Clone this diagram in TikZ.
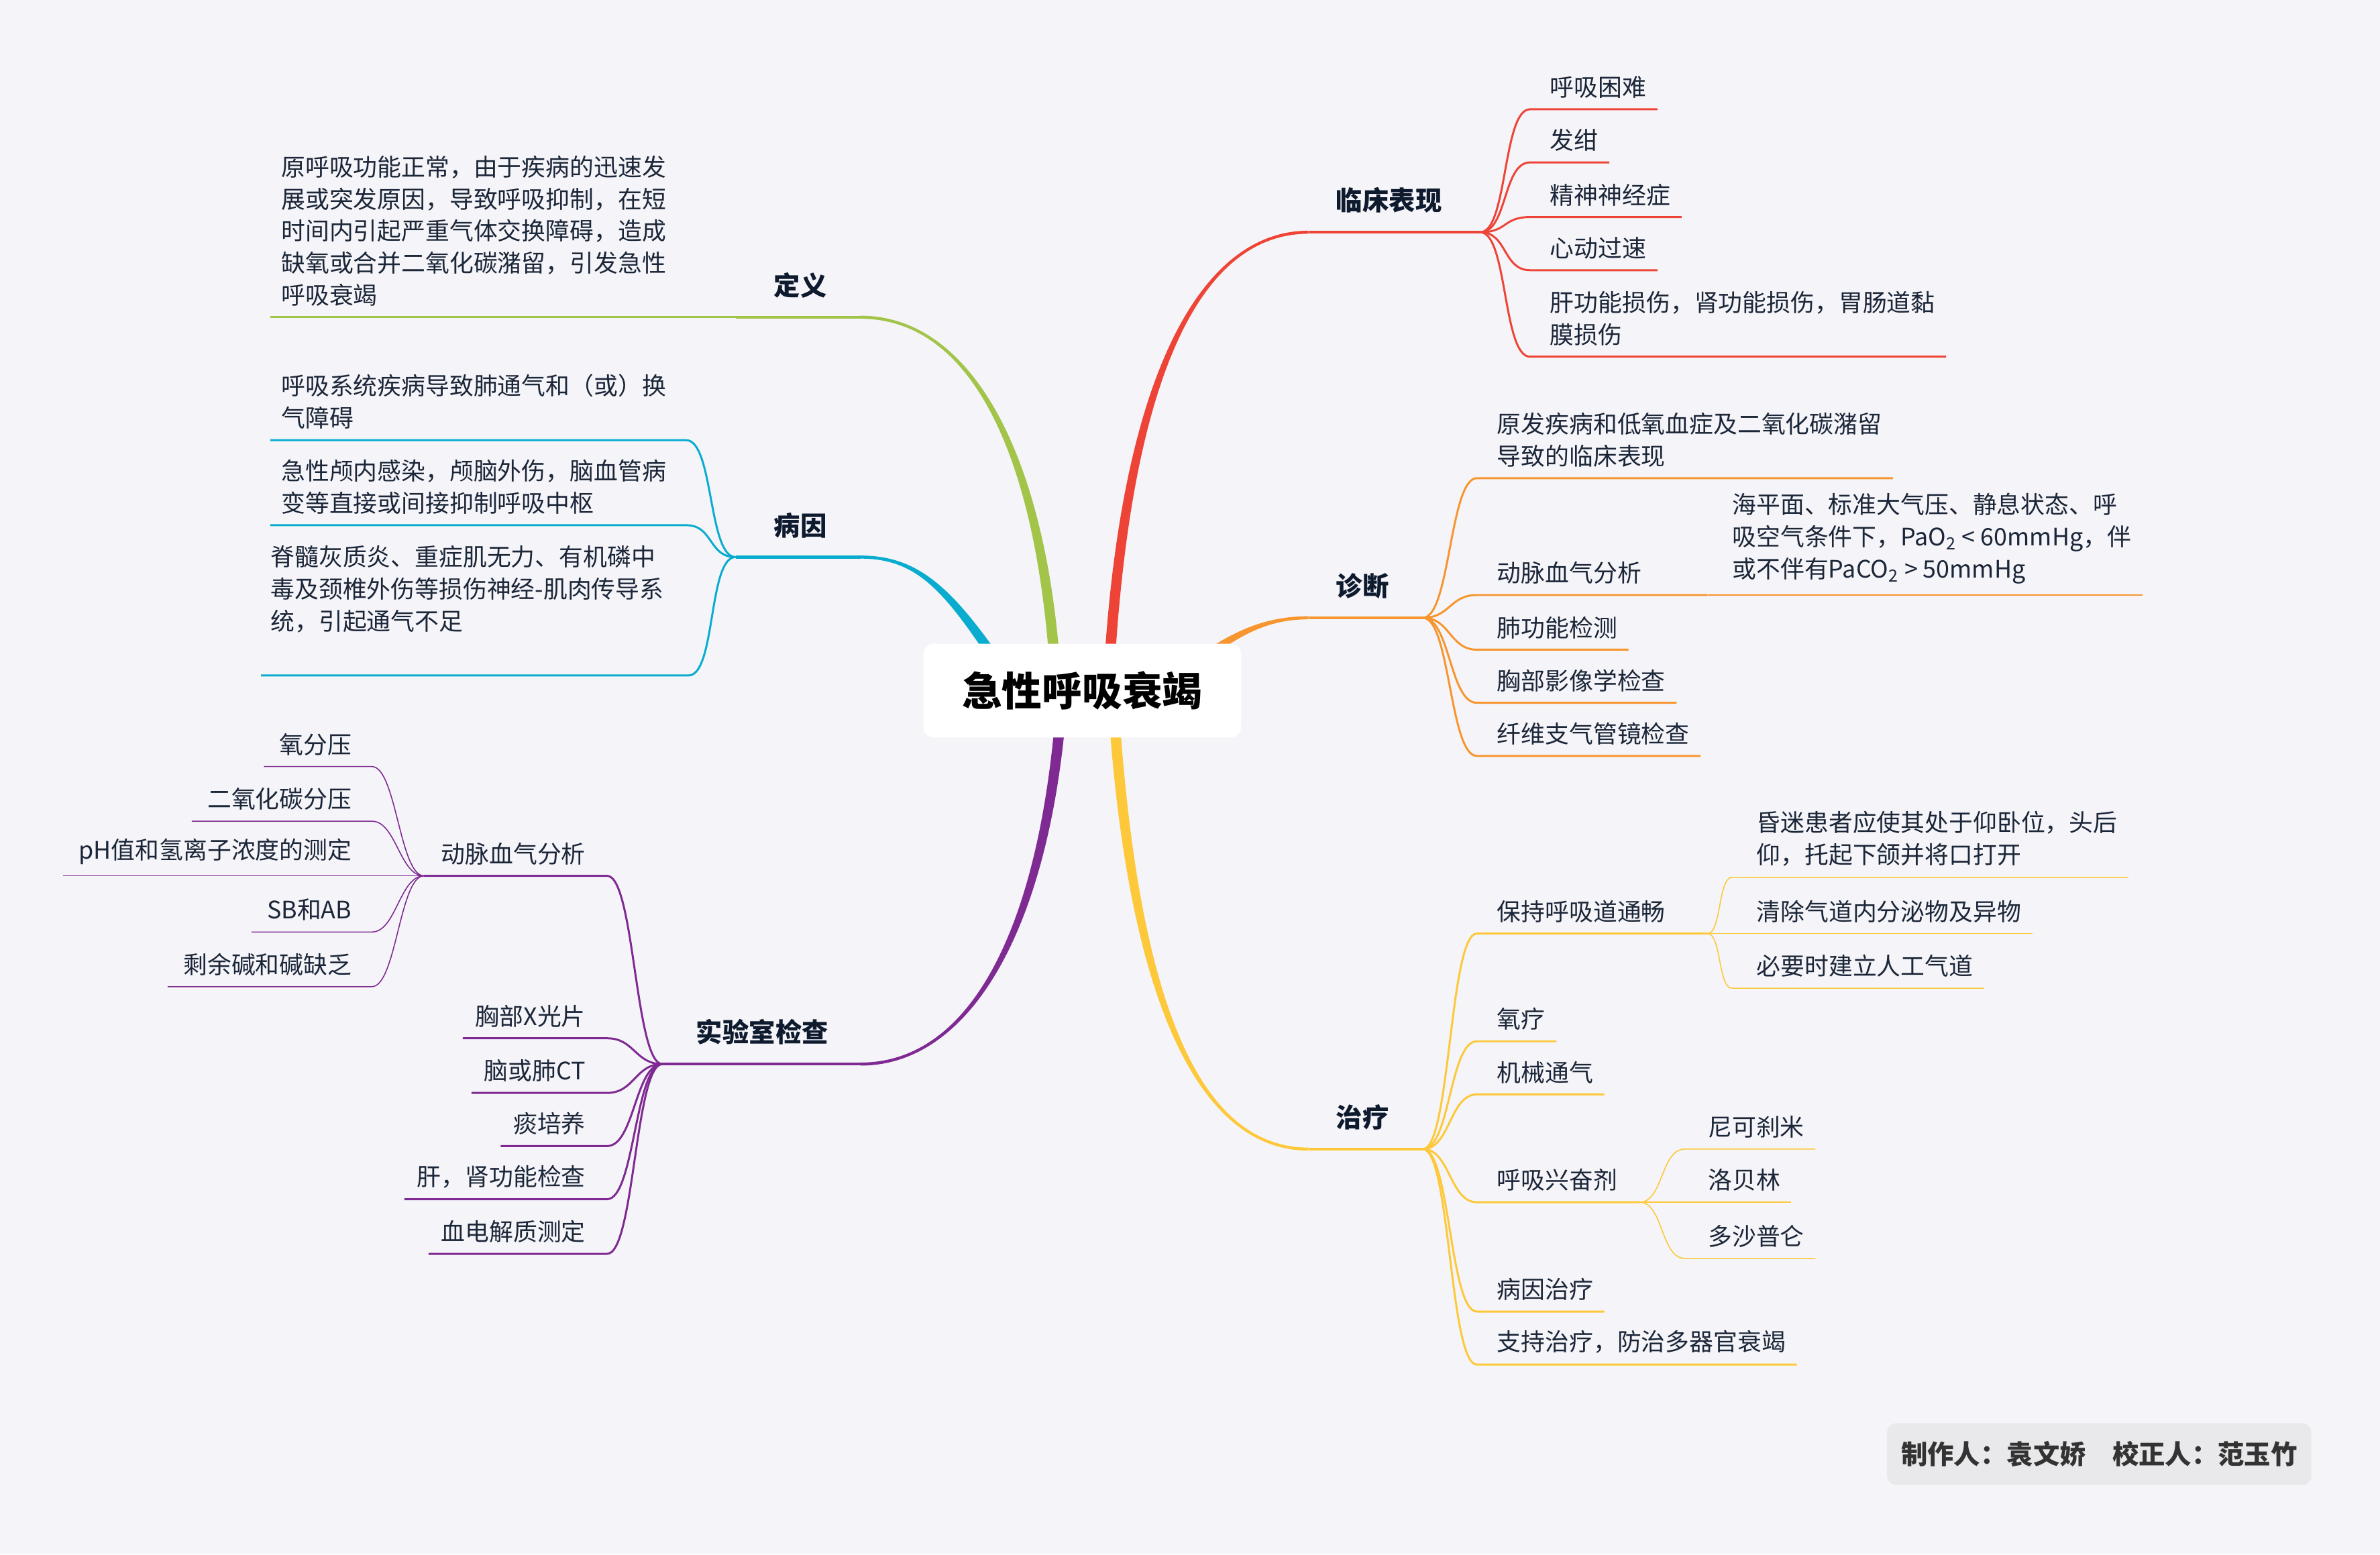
\documentclass[tikz,border=0pt]{standalone}
\usepackage{fontspec}
\setmainfont{Noto Sans CJK SC}
\usetikzlibrary{calc,backgrounds}

\definecolor{paper}{HTML}{F5F5F9}
\definecolor{ink}{HTML}{1B2638}
\definecolor{topicink}{HTML}{0E1A2E}
\definecolor{cred}{HTML}{EE4437}
\definecolor{corange}{HTML}{F7952F}
\definecolor{cyellow}{HTML}{FDC83A}
\definecolor{cgreen}{HTML}{A2C449}
\definecolor{cblue}{HTML}{09ACCF}
\definecolor{cpurple}{HTML}{7F2A92}
\definecolor{creditfill}{HTML}{E9E9EB}
\definecolor{creditink}{HTML}{333333}

\tikzset{
  rootnode/.style={fill=white, rounded corners=4.5pt, minimum width=134.7pt, minimum height=39.8pt,
    inner sep=0pt, font=\bfseries\fontsize{17}{20}\selectfont, text=black},
  topic/.style={inner sep=0pt, font=\bfseries\fontsize{11.2}{14}\selectfont, text=topicink},
  leaf/.style={inner sep=0pt, align=left, font=\fontsize{10.2}{13.6}\selectfont, text=ink},
  credit/.style={fill=creditfill, rounded corners=4pt, minimum width=180pt, minimum height=26.3pt,
    inner sep=0pt, font=\bfseries\fontsize{11.2}{14}\selectfont, text=creditink},
  limb/.style={line width=1.3pt},
  twig/.style={line width=0.85pt},
  sprig/.style={line width=0.45pt},
}

% tapered main branch: colour, start, control 1, control 2, end, start offset, end offset
\newcommand\bough[7]{%
  \fill[#1] ($#2+#6$) .. controls ($#3+#6$) and ($#4+#7$) .. ($#5+#7$)
    -- ($#5-#7$) .. controls ($#4-#7$) and ($#3-#6$) .. ($#2-#6$) -- cycle;}

\begin{document}
\begin{tikzpicture}[x=0.022628cm,y=-0.022628cm]
	\useasboundingbox (0,0) rectangle (1568,1024);
	
	% Centre
	\node[rootnode] (root) at (713,455) {急性呼吸衰竭};
	
	% Main topics
	\node[topic,anchor=west] (lc) at (880,132) {临床表现};
	\node[topic,anchor=west] (zd) at (880,386) {诊断};
	\node[topic,anchor=west] (zl) at (880,736) {治疗};
	\node[topic,anchor=east] (dy) at (545,188) {定义};
	\node[topic,anchor=east] (by) at (545,346) {病因};
	\node[topic,anchor=east] (sy) at (546,680) {实验室检查};
	
	\coordinate (lc-in) at ($(lc.west)+(-18,21)$);
	\coordinate (lc-fan) at ($(lc.east)+(25,21)$);
	\coordinate (zd-in) at ($(zd.west)+(-18,21)$);
	\coordinate (zd-fan) at ($(zd.east)+(22,21)$);
	\coordinate (zl-in) at ($(zl.west)+(-18,21)$);
	\coordinate (zl-fan) at ($(zl.east)+(22,21)$);
	\coordinate (dy-in) at ($(dy.east)+(22,21)$);
	\coordinate (dy-fan) at ($(dy.west)+(-25,21)$);
	\coordinate (by-in) at ($(by.east)+(22,21)$);
	\coordinate (by-fan) at ($(by.west)+(-25,21)$);
	\coordinate (sy-in) at ($(sy.east)+(21,21)$);
	\coordinate (sy-fan) at ($(sy.west)+(-22,21)$);
	
	% Clinical signs
	\node[leaf,anchor=south west] (r1) at (1021,65) {呼吸困难};
	\node[leaf,anchor=south west] (r2) at (1021,100) {发绀};
	\node[leaf,anchor=south west] (r3) at (1021,136) {精神神经症};
	\node[leaf,anchor=south west] (r4) at (1021,171) {心动过速};
	\node[leaf,anchor=south west] (r5) at (1021,228) {肝功能损伤，肾功能损伤，胃肠道黏\\膜损伤};
	
	% Diagnosis
	\node[leaf,anchor=south west] (o1) at (986,308) {原发疾病和低氧血症及二氧化碳潴留\\导致的临床表现};
	\node[leaf,anchor=south west] (o2) at (986,385) {动脉血气分析};
	\node[leaf,anchor=south west] (o2a) at (1141,385) {海平面、标准大气压、静息状态、呼\\吸空气条件下，PaO\textsubscript{2} < 60mmHg，伴\\或不伴有PaCO\textsubscript{2} > 50mmHg};
	\node[leaf,anchor=south west] (o3) at (986,421) {肺功能检测};
	\node[leaf,anchor=south west] (o4) at (986,456) {胸部影像学检查};
	\node[leaf,anchor=south west] (o5) at (986,491) {纤维支气管镜检查};
	\coordinate (o2-fan) at ($(o2.south west)+(139,7)$);
	
	% Treatment
	\node[leaf,anchor=south west] (y1) at (986,608) {保持呼吸道通畅};
	\node[leaf,anchor=south west] (y1a) at (1157,571) {昏迷患者应使其处于仰卧位，头后\\仰，托起下颌并将口打开};
	\node[leaf,anchor=south west] (y1b) at (1157,608) {清除气道内分泌物及异物};
	\node[leaf,anchor=south west] (y1c) at (1157,644) {必要时建立人工气道};
	\node[leaf,anchor=south west] (y2) at (986,679) {氧疗};
	\node[leaf,anchor=south west] (y3) at (986,714) {机械通气};
	\node[leaf,anchor=south west] (y4) at (986,785) {呼吸兴奋剂};
	\node[leaf,anchor=south west] (y4a) at (1125,750) {尼可刹米};
	\node[leaf,anchor=south west] (y4b) at (1125,785) {洛贝林};
	\node[leaf,anchor=south west] (y4c) at (1125,822) {多沙普仑};
	\node[leaf,anchor=south west] (y5) at (986,857) {病因治疗};
	\node[leaf,anchor=south west] (y6) at (986,892) {支持治疗，防治多器官衰竭};
	\coordinate (y1-fan) at ($(y1.south west)+(139,7)$);
	\coordinate (y4-fan) at ($(y4.south west)+(94,7)$);
	
	% Definition and causes
	\node[leaf,anchor=south west] (g1) at (185,202) {原呼吸功能正常，由于疾病的迅速发\\展或突发原因，导致呼吸抑制，在短\\时间内引起严重气体交换障碍，造成\\缺氧或合并二氧化碳潴留，引发急性\\呼吸衰竭};
	\node[leaf,anchor=south west] (b1) at (185,283) {呼吸系统疾病导致肺通气和（或）换\\气障碍};
	\node[leaf,anchor=south west] (b2) at (185,339) {急性颅内感染，颅脑外伤，脑血管病\\变等直接或间接抑制呼吸中枢};
	\node[leaf,anchor=south west] (b3) at (178,417) {脊髓灰质炎、重症肌无力、有机磷中\\毒及颈椎外伤等损伤神经-肌肉传导系\\统，引起通气不足};
	
	% Laboratory tests
	\node[leaf,anchor=south east] (p1) at (386,570) {动脉血气分析};
	\node[leaf,anchor=south east] (p1a) at (232,498) {氧分压};
	\node[leaf,anchor=south east] (p1b) at (232,534) {二氧化碳分压};
	\node[leaf,anchor=south east] (p1c) at (232,570) {pH值和氢离子浓度的测定};
	\node[leaf,anchor=south east] (p1d) at (232,607) {SB和AB};
	\node[leaf,anchor=south east] (p1e) at (232,643) {剩余碱和碱缺乏};
	\node[leaf,anchor=south east] (p2) at (386,677) {胸部X光片};
	\node[leaf,anchor=south east] (p3) at (386,713) {脑或肺CT};
	\node[leaf,anchor=south east] (p4) at (386,748) {痰培养};
	\node[leaf,anchor=south east] (p5) at (386,783) {肝，肾功能检查};
	\node[leaf,anchor=south east] (p6) at (386,819) {血电解质测定};
	\coordinate (p1-fan) at ($(p1.south west)+(-11,7)$);
	
	% Credits
	\node[credit] (credit) at (1383,958) {制作人：袁文娇\quad 校正人：范玉竹};
	
	% Background and main branches
	\begin{scope}[on background layer]
		\fill[paper] (0,0) rectangle (1568,1024);
		\bough{cred}{(root)+(17,0)}{(740,250)}{(790,153)}{(lc-in)}{(3.5,0)}{(0,1)}
		\bough{corange}{(root)+(40,10)}{(800,425)}{(825,407)}{(zd-in)}{(2.1,2.8)}{(0,1)}
		\bough{cyellow}{(root)+(20,0)}{(745,660)}{(790,757)}{(zl-in)}{(-3.5,0)}{(0,1)}
		\bough{cgreen}{(root)+(-17,0)}{(688,300)}{(640,209)}{(dy-in)}{(3.5,0)}{(0,-1)}
		\bough{cblue}{(root)+(-40,5)}{(630,395)}{(610,367)}{(by-in)}{(3,-1.75)}{(0,-1)}
		\bough{cpurple}{(root)+(-13,0)}{(690,610)}{(640,701)}{(sy-in)}{(-3.5,0)}{(0,-1)}
	\end{scope}
	
	% Topic underlines
	\draw[cred,limb] (lc-in) -- (lc-fan);
	\draw[corange,limb] (zd-in) -- (zd-fan);
	\draw[cyellow,limb] (zl-in) -- (zl-fan);
	\draw[cgreen,limb] (dy-in) -- (dy-fan);
	\draw[cblue,limb] (by-in) -- (by-fan);
	\draw[cpurple,limb] (sy-in) -- (sy-fan);
	
	% Right side branches
	\foreach \n in {r1,r2,r3,r4,r5}
		\draw[cred,twig] (lc-fan) .. controls +(18,0) and +(-18,0) .. ($(\n.south west)+(-13,7)$) -- ($(\n.south east)+(7,7)$);
	\foreach \n in {o1,o3,o4,o5}
		\draw[corange,twig] (zd-fan) .. controls +(18,0) and +(-18,0) .. ($(\n.south west)+(-13,7)$) -- ($(\n.south east)+(7,7)$);
	\draw[corange,twig] (zd-fan) .. controls +(18,0) and +(-18,0) .. ($(o2.south west)+(-13,7)$) -- (o2-fan);
	\draw[corange,sprig] (o2-fan) -- ($(o2a.south east)+(7,7)$);
	\foreach \n in {y2,y3,y5,y6}
		\draw[cyellow,twig] (zl-fan) .. controls +(18,0) and +(-18,0) .. ($(\n.south west)+(-13,7)$) -- ($(\n.south east)+(7,7)$);
	\draw[cyellow,twig] (zl-fan) .. controls +(18,0) and +(-18,0) .. ($(y1.south west)+(-13,7)$) -- (y1-fan);
	\draw[cyellow,twig] (zl-fan) .. controls +(18,0) and +(-18,0) .. ($(y4.south west)+(-13,7)$) -- (y4-fan);
	\foreach \n in {y1a,y1b,y1c}
		\draw[cyellow,sprig] (y1-fan) .. controls +(9,0) and +(-9,0) .. ($(\n.south west)+(-16,7)$) -- ($(\n.south east)+(7,7)$);
	\foreach \n in {y4a,y4b,y4c}
		\draw[cyellow,sprig] (y4-fan) .. controls +(16,0) and +(-16,0) .. ($(\n.south west)+(-15,7)$) -- ($(\n.south east)+(7,7)$);
	
	% Left side branches
	\draw[cgreen,twig] (dy-fan) -- ($(g1.south west)+(-7,7)$);
	\foreach \n in {b1,b2}
		\draw[cblue,twig] (by-fan) .. controls +(-18,0) and +(18,0) .. ($(\n.south east)+(13,7)$) -- ($(\n.south west)+(-7,7)$);
	\draw[cblue,twig] (by-fan) .. controls +(-18,0) and +(18,0) .. ($(b3.south east)+(16,28)$) -- ($(b3.south west)+(-6,28)$);
	\foreach \n in {p2,p3,p4,p5,p6}
		\draw[cpurple,twig] (sy-fan) .. controls +(-18,0) and +(18,0) .. ($(\n.south east)+(14,7)$) -- ($(\n.south west)+(-8,7)$);
	\draw[cpurple,twig] (sy-fan) .. controls +(-18,0) and +(18,0) .. ($(p1.south east)+(14,7)$) -- (p1-fan);
	\foreach \n in {p1a,p1b,p1c,p1d,p1e}
		\draw[cpurple,sprig] (p1-fan) .. controls +(-16,0) and +(16,0) .. ($(\n.south east)+(13,7)$) -- ($(\n.south west)+(-10,7)$);
	
\end{tikzpicture}
\end{document}
